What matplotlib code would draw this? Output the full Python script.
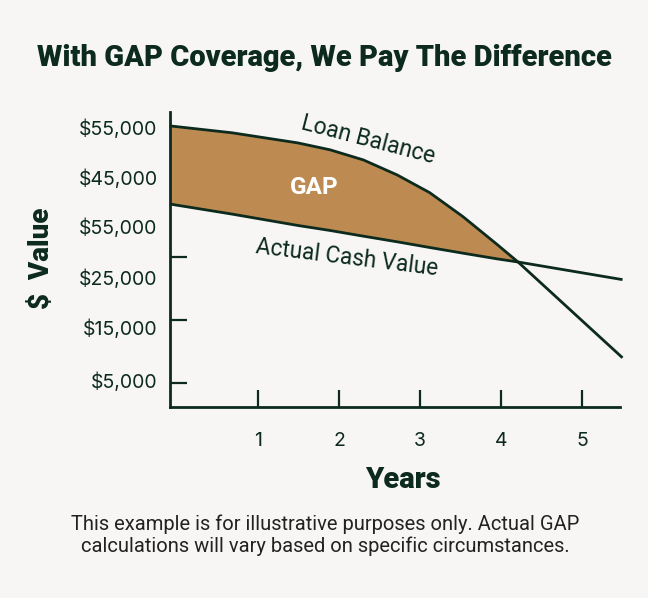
import numpy as np
import matplotlib
matplotlib.use("Agg")
import matplotlib.pyplot as plt

# ---- data (values in $ thousands) ----
years = [-0.09, 0.68, 1.49, 1.89, 2.30, 2.72, 3.12, 3.53, 3.95, 4.21, 5.50]
loan_balance = [45.8, 44.7, 43.1, 42.0, 40.4, 38.0, 35.2, 31.4, 27.0, 24.2, 9.0]
actual_cash_value = [33.4, 31.8, 30.0, 29.2, 28.3, 27.4, 26.5, 25.6, 24.7, 24.2, 21.4]
x_ticks = [1, 2, 3, 4, 5]
y_tick_marks = [5, 15, 25]
y_tick_labels = ["$55,000", "$45,000", "$55,000", "$25,000", "$15,000", "$5,000"]
y_label_pos = [45.6, 37.7, 29.8, 21.8, 13.9, 5.5]

DARK = "#0c2a1d"
FILL = "#bd8b51"
BG = "#f7f6f4"

plt.rcParams['font.family'] = ['Roboto', 'DejaVu Sans']

fig = plt.figure(figsize=(6.48, 5.98), dpi=100, facecolor=BG)
ax = fig.add_axes([170/648, 1-407/598, 450/648, 295/598])
ax.set_facecolor(BG)

x = np.array(years)
lb = np.array(loan_balance)
acv = np.array(actual_cash_value)
ax.fill_between(x, lb, acv, where=lb >= acv, interpolate=True, color=FILL, lw=0, zorder=1)
ax.plot(x, lb, color=DARK, lw=2.0, clip_on=False, zorder=3, solid_capstyle='butt',
        solid_joinstyle='round')
ax.plot(x, acv, color=DARK, lw=2.0, clip_on=False, zorder=3, solid_capstyle='butt')

ax.set_xlim(-0.086, 5.469)
ax.set_ylim(1.19, 48.0)

for s in ['top', 'right']:
    ax.spines[s].set_visible(False)
for s in ['left', 'bottom']:
    ax.spines[s].set_color(DARK)
    ax.spines[s].set_linewidth(2.0)
    ax.spines[s].set_zorder(4)

tick_font = ['Inter', 'DejaVu Sans']

ax.set_xticks(x_ticks)
ax.set_xticklabels([str(t) for t in x_ticks], family=tick_font)
ax.tick_params(axis='x', direction='in', length=12, width=1.6, color=DARK,
               labelcolor=DARK, labelsize=14, pad=18)

ax.set_yticks(y_tick_marks)
ax.set_yticklabels([])
ax.tick_params(axis='y', which='major', direction='in', length=12, width=1.6, color=DARK)
ax.set_yticks(y_label_pos, minor=True)
ax.set_yticklabels(y_tick_labels, minor=True, family=tick_font)
ax.tick_params(axis='y', which='minor', length=0, pad=9, labelsize=14, labelcolor=DARK)

ax.text(2.36, 43.6, "Loan Balance", rotation=-14.5, rotation_mode='anchor',
        ha='center', va='center', fontsize=16.5, color=DARK, zorder=5)
ax.text(2.10, 24.8, "Actual Cash Value", rotation=-7, rotation_mode='anchor',
        ha='center', va='center', fontsize=16.3, color=DARK, zorder=5)
ax.text(1.69, 35.95, "GAP", ha='center', va='center', fontsize=17.5,
        fontweight='bold', color='white', zorder=5)

fig.text(0.5, 1-58/598, "With GAP Coverage, We Pay The Difference", ha='center',
         va='center', fontsize=21, fontweight='black', color=DARK)
fig.text(42/648, 1-258/598, "$  Value", rotation=90, ha='center', va='center',
         fontsize=20, fontweight='black', color=DARK)
fig.text(403/648, 1-480/598, "Years", ha='center', va='center',
         fontsize=21, fontweight='black', color=DARK)
fig.text(325/648, 1-535/598,
         "This example is for illustrative purposes only. Actual GAP\ncalculations will vary based on specific circumstances.",
         ha='center', va='center', fontsize=14.5, color="#222222", linespacing=1.15)

fig.savefig("out.png", dpi=100, facecolor=BG)
